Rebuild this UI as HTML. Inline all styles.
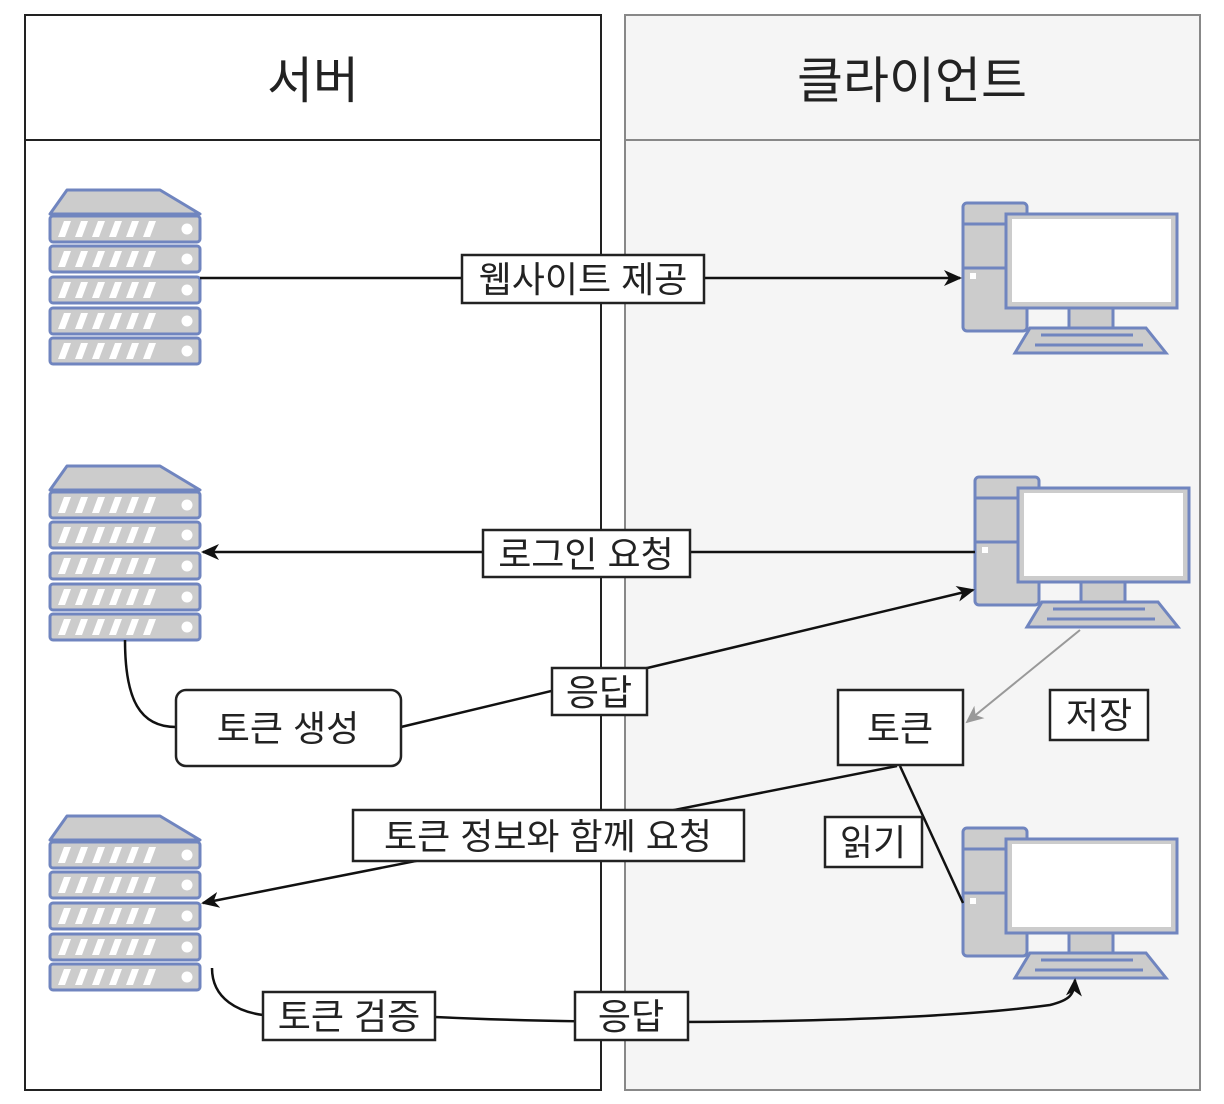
<!DOCTYPE html>
<html><head><meta charset="utf-8"><style>
html,body{margin:0;padding:0;background:#fff;}
svg{display:block;}
text{font-family:"Liberation Sans","Noto Sans CJK KR",sans-serif;fill:#222;}
</style></head><body>
<svg width="1224" height="1104" viewBox="0 0 1224 1104" xmlns="http://www.w3.org/2000/svg">
<defs>
<marker id="arb" markerWidth="18" markerHeight="18" refX="16" refY="9" orient="auto" markerUnits="userSpaceOnUse" viewBox="0 0 18 18"><path d="M0,1 L18,9 L0,17 L5,9 z" fill="#111"/></marker>
<marker id="arg" markerWidth="18" markerHeight="18" refX="16" refY="9" orient="auto" markerUnits="userSpaceOnUse" viewBox="0 0 18 18"><path d="M0,1 L18,9 L0,17 L5,9 z" fill="#999"/></marker>
<g id="srow"><rect x="0" y="0" width="150" height="26" rx="3" fill="#ccc" stroke="#7085bf" stroke-width="3"/>
<g fill="#fff"><path d="M8,21 L14,5 L21,5 L15,21z"/><path d="M25,21 L31,5 L38,5 L32,21z"/><path d="M42,21 L48,5 L55,5 L49,21z"/><path d="M59,21 L65,5 L72,5 L66,21z"/><path d="M76,21 L82,5 L89,5 L83,21z"/><path d="M93,21 L99,5 L106,5 L100,21z"/><circle cx="137" cy="13" r="5.5"/></g></g>
<g id="server"><polygon points="17,2 110,2 150,26 0,26" fill="#ccc" stroke="#7085bf" stroke-width="3" stroke-linejoin="round"/>
<use href="#srow" y="28"/><use href="#srow" y="58"/><use href="#srow" y="89"/><use href="#srow" y="120"/><use href="#srow" y="150"/></g>
<g id="pc"><rect x="0" y="0" width="64" height="128" rx="4" fill="#ccc" stroke="#7085bf" stroke-width="3"/>
<line x1="0" y1="21" x2="64" y2="21" stroke="#7085bf" stroke-width="3"/><line x1="0" y1="65" x2="64" y2="65" stroke="#7085bf" stroke-width="3"/>
<rect x="7" y="70" width="6" height="6" fill="#fff"/>
<rect x="43" y="11" width="171" height="94" fill="#ccc" stroke="#7085bf" stroke-width="3"/>
<rect x="49" y="16" width="159" height="83" fill="#fff"/>
<rect x="106" y="105" width="44" height="20" fill="#ccc" stroke="#7085bf" stroke-width="3"/>
<polygon points="67,125 183,125 203,150 52,150" fill="#ccc" stroke="#7085bf" stroke-width="3"/>
<line x1="78" y1="132" x2="170" y2="132" stroke="#7085bf" stroke-width="3"/><line x1="72" y1="142" x2="180" y2="142" stroke="#7085bf" stroke-width="3"/></g>
</defs>

<rect x="625" y="15" width="575" height="1075" fill="#f5f5f5" stroke="#888" stroke-width="2"/>
<line x1="625" y1="140" x2="1200" y2="140" stroke="#888" stroke-width="2"/>
<rect x="25" y="15" width="576" height="1075" fill="#fff" stroke="#222" stroke-width="2"/>
<line x1="25" y1="140" x2="601" y2="140" stroke="#222" stroke-width="2"/>
<text x="313" y="98" font-size="50" text-anchor="middle">서버</text>
<text x="912" y="98" font-size="50" text-anchor="middle">클라이언트</text>

<use href="#server" x="50" y="188"/>
<use href="#server" x="50" y="464"/>
<use href="#server" x="50" y="814"/>
<use href="#pc" x="963" y="203"/>
<use href="#pc" x="975" y="477"/>
<use href="#pc" x="963" y="828"/>

<g fill="none" stroke="#111" stroke-width="2.5">
<line x1="200" y1="278" x2="960" y2="278" marker-end="url(#arb)"/>
<line x1="975" y1="552" x2="203" y2="552" marker-end="url(#arb)"/>
<path d="M125,640 C125,700 140,727 176,727"/>
<line x1="401" y1="727" x2="973" y2="590" marker-end="url(#arb)"/>
<line x1="897" y1="766" x2="203" y2="903" marker-end="url(#arb)"/>
<line x1="900" y1="766" x2="963" y2="903"/>
<path d="M212,968 C212,1000 240,1012 263,1015"/>
<path d="M435,1017 C600,1025 900,1025 1050,1005 C1070,1000 1074,995 1075,980" marker-end="url(#arb)"/>
</g>
<line x1="1080" y1="630" x2="967" y2="722" stroke="#999" stroke-width="2" marker-end="url(#arg)"/>

<g stroke="#222" stroke-width="2.5" fill="#fff">
<rect x="462" y="255" width="242" height="48"/>
<rect x="483" y="530" width="207" height="47"/>
<rect x="176" y="690" width="225" height="76" rx="10"/>
<rect x="552" y="668" width="95" height="47"/>
<rect x="838" y="690" width="125" height="75"/>
<rect x="1050" y="690" width="98" height="50"/>
<rect x="353" y="810" width="391" height="51"/>
<rect x="825" y="817" width="97" height="50"/>
<rect x="263" y="992" width="172" height="48"/>
<rect x="575" y="992" width="113" height="48"/>
</g>
<g font-size="36" text-anchor="middle">
<text x="583" y="292">웹사이트 제공</text>
<text x="586" y="567">로그인 요청</text>
<text x="288" y="741">토큰 생성</text>
<text x="599" y="705">응답</text>
<text x="900" y="741">토큰</text>
<text x="1099" y="728">저장</text>
<text x="548" y="849">토큰 정보와 함께 요청</text>
<text x="873" y="855">읽기</text>
<text x="349" y="1029">토큰 검증</text>
<text x="631" y="1029">응답</text>
</g>
</svg>
</body></html>
